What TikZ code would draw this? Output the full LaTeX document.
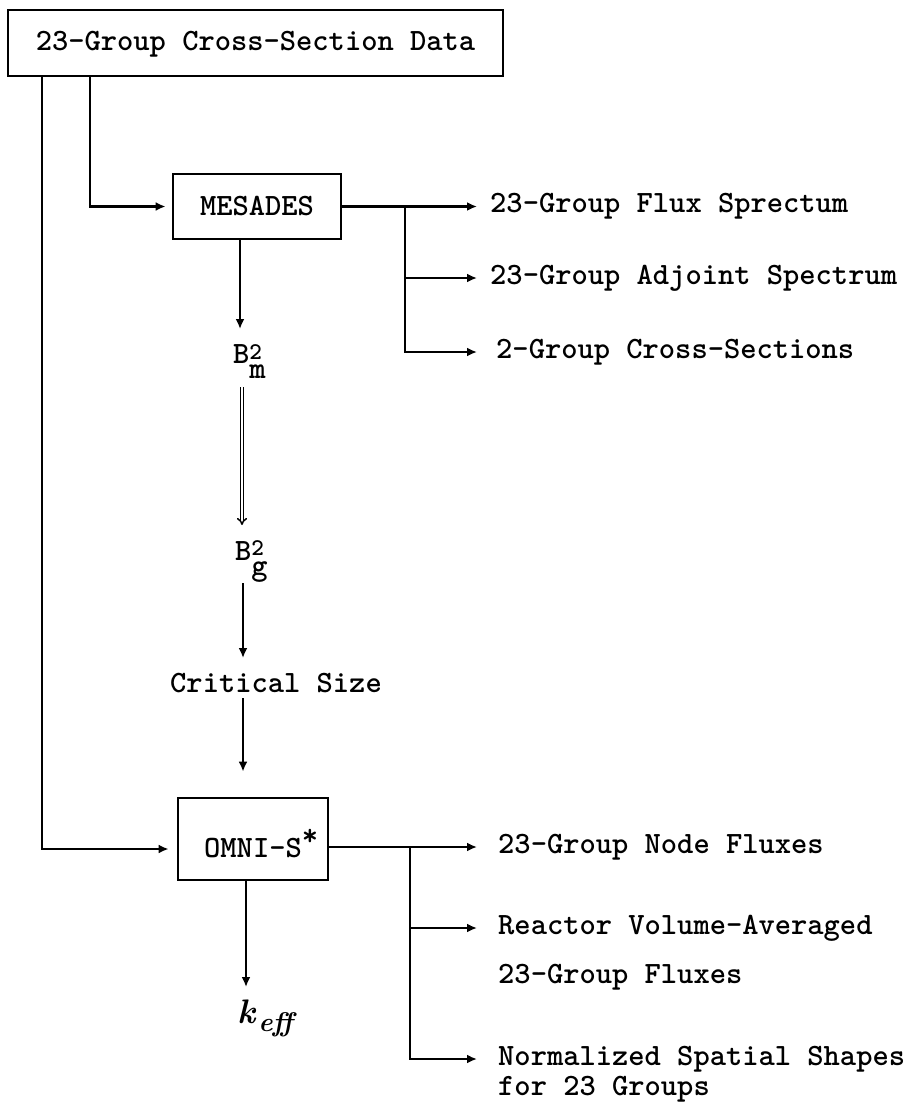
\documentclass[tikz,border=0pt]{standalone}
\usetikzlibrary{arrows.meta,calc}
\begin{document}
\begin{tikzpicture}[x=1pt,y=-1pt,
  txt/.style={font=\fontsize{31}{37}\selectfont\ttfamily\bfseries},
  box/.style={draw,line width=2.8pt,inner sep=0pt,txt},
  lab/.style={inner sep=0pt,anchor=base west,align=left,txt},
  arr/.style={line width=2.5pt,-{Latex[length=10pt,width=9pt]}},
  dbl/.style={double,double distance=1.8pt,line width=1.5pt,-{Implies}}]
\useasboundingbox (0,0) rectangle (917,1106);

% boxes
\node[box,minimum width=495pt,minimum height=66pt,text height=21pt,text depth=7pt] (top) at (255.5,43) {23-Group Cross-Section Data};
\node[box,minimum width=168pt,minimum height=65pt,text height=24pt,text depth=7pt] (mes) at (257,206.5) {MESADES};
\node[box,minimum width=150pt,minimum height=82pt,text height=43pt,text depth=7pt] (omni) at (253,839) {OMNI-S\rlap{\raisebox{12pt}{*}}};

% MESADES outputs
\node[lab] (flux) at (490,212.5) {23-Group Flux Sprectum};
\node[lab] (adj) at (490,284) {23-Group Adjoint Spectrum};
\node[lab] (cs2) at (496,358) {2-Group Cross-Sections};

% central column
\node[lab] (bm) at (233,363) {B\rlap{\raisebox{4pt}{\fontsize{24}{24}\selectfont 2}}\raisebox{-15pt}{m}};
\node[lab] (bg) at (235,560) {B\rlap{\raisebox{5pt}{\fontsize{24}{24}\selectfont 2}}\raisebox{-15pt}{g}};
\node[lab] (crit) at (170,692) {Critical Size};
\node[lab,font=\fontsize{34}{40}\selectfont\rmfamily\bfseries\itshape] (keff) at (237,1023) {k\hspace{3pt}\raisebox{-8pt}{\fontsize{27}{27}\selectfont eff}};

% OMNI-S outputs
\node[lab] (n1) at (498,853) {23-Group Node Fluxes};
\node[lab] (react) at (498,983) {Reactor Volume-Averaged\\[12pt]23-Group Fluxes};
\node[lab] (norm) at (498,1095) {Normalized Spatial Shapes\\[-7pt]for 23 Groups};

% helper coordinates
\coordinate (c1) at (42,0);
\coordinate (c2) at (90,0);
\coordinate (c3) at (405,0);
\coordinate (c4) at (410,0);
\coordinate (ft) at ([xshift=-13pt,yshift=6pt]flux.base west);
\coordinate (at) at ([xshift=-13pt,yshift=6pt]adj.base west);
\coordinate (ct) at ([xshift=-19pt,yshift=6pt]cs2.base west);
\coordinate (nt) at ([xshift=-21pt,yshift=6pt]n1.base west);
\coordinate (rt) at ([xshift=-21pt,yshift=55pt]react.base west);
\coordinate (mt) at ([xshift=-21pt,yshift=36pt]norm.base west);
\coordinate (bmt) at ([xshift=7pt,yshift=34pt]bm.base west);
\coordinate (bmb) at ([xshift=9pt,yshift=-24pt]bm.base west);
\coordinate (bgt) at ([xshift=7pt,yshift=35pt]bg.base west);
\coordinate (bgb) at ([xshift=8pt,yshift=-23pt]bg.base west);
\coordinate (crt) at ([xshift=73pt,yshift=34pt]crit.base west);
\coordinate (crb) at ([xshift=73pt,yshift=-6pt]crit.base west);
\coordinate (kt) at ([xshift=9pt,yshift=36pt]keff.base west);

% connectors from top box
\draw[arr,shorten >=6pt] (top.south -| c2) |- (mes.west);
\draw[arr,shorten >=8pt] (top.south -| c1) |- ([yshift=-10pt]omni.west);

% MESADES outputs
\draw[arr] (mes.east) -- (mes.east -| ft);
\draw[arr] (c3 |- ft) |- (at);
\draw[arr] (c3 |- ft) |- (ct);

% central column
\draw[arr] (mes.south -| bmt) -- (bmt);
\draw[dbl] (bmb) -- (bgt);
\draw[arr] (bgb) -- (crt);
\draw[arr,shorten >=25pt] (crb) -- (omni.north -| crb);
\draw[arr] (omni.south -| kt) -- (kt);

% OMNI-S outputs
\draw[arr] ([yshift=-8pt]omni.east) -- ([yshift=-8pt]omni.east -| nt);
\draw[arr] (c4 |- nt) |- (rt);
\draw[arr] (c4 |- nt) |- (mt);
\end{tikzpicture}
\end{document}
